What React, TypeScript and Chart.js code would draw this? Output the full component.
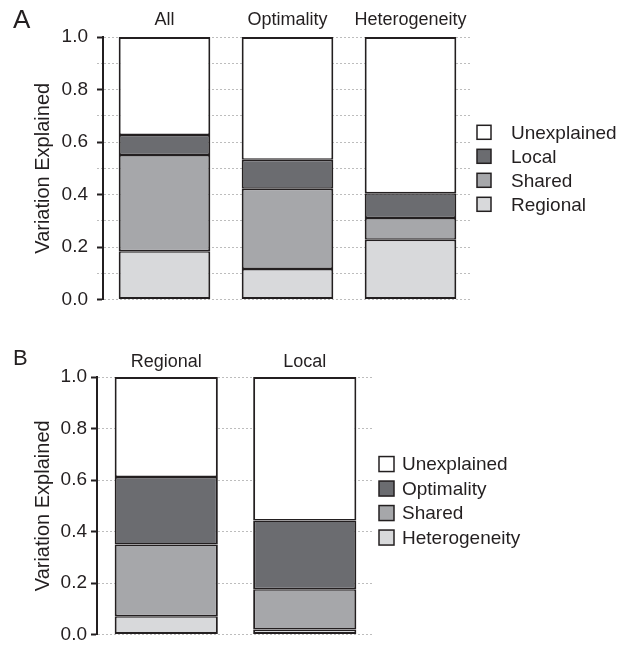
import React, { useEffect, useRef } from "react";
import { Chart, registerables } from "chart.js";

Chart.register(...registerables);

// ---------- data ----------
const panelACategories = ["All", "Optimality", "Heterogeneity"];
const panelASeriesNames = ["Regional", "Shared", "Local", "Unexplained"];
const panelARegional = [0.184, 0.117, 0.228];
const panelAShared = [0.367, 0.305, 0.083];
const panelALocal = [0.076, 0.111, 0.094];
const panelAUnexplained = [0.373, 0.467, 0.595];

const panelBCategories = ["Regional", "Local"];
const panelBSeriesNames = ["Heterogeneity", "Shared", "Optimality", "Unexplained"];
const panelBHeterogeneity = [0.071, 0.02];
const panelBShared = [0.279, 0.156];
const panelBOptimality = [0.262, 0.267];
const panelBUnexplained = [0.388, 0.557];

const yTickValues = [0, 0.2, 0.4, 0.6, 0.8, 1.0];

// ---------- style ----------
const INK = "#231f20";
const GRID = "#bdbdbd";
const FONT = '"Liberation Sans", Arial, Helvetica, sans-serif';
const FILLS = ["#d8d9db", "#a6a7aa", "#6b6c70", "#ffffff"]; // bottom -> top
const BORDERS = [
  { top: 1.5, bottom: 2, left: 2, right: 2 },
  { top: 1.5, bottom: 1.5, left: 2, right: 2 },
  { top: 1.5, bottom: 1.5, left: 2, right: 2 },
  { top: 2, bottom: 1.5, left: 2, right: 2 },
];

Chart.defaults.font.family = FONT;

type LegendCfg = { dx: number; box: number; gap: number; step: number; dy: number; size: number };
type PanelCfg = {
  height: number;
  top: number;
  bottom: number;
  left: number;
  right: number;
  tickPad: number;
  labelPad: number;
  tag: string;
  tagX: number;
  tagY: number;
  tagSize: number;
  legend: LegendCfg;
};

const isMajor = (v: number) => yTickValues.some((t) => Math.abs(t - v) < 1e-6);

function Panel({
  categories,
  names,
  series,
  cfg,
}: {
  categories: string[];
  names: string[];
  series: number[][];
  cfg: PanelCfg;
}) {
  const ref = useRef<HTMLCanvasElement | null>(null);

  useEffect(() => {
    if (!ref.current) return;
    const sidePlugin = {
      id: "sideLegend",
      afterDraw(chart: any) {
        const { ctx, chartArea } = chart;
        const L = cfg.legend;
        const ds = chart.data.datasets;
        const n = ds.length;
        const cy = (chartArea.top + chartArea.bottom) / 2 + L.dy;
        ctx.save();
        ctx.font = `${L.size}px ${FONT}`;
        ctx.textBaseline = "middle";
        ctx.textAlign = "left";
        for (let k = 0; k < n; k++) {
          const d = ds[n - 1 - k];
          const y = cy + (k - (n - 1) / 2) * L.step;
          const x = chartArea.right + L.dx;
          ctx.fillStyle = d.backgroundColor;
          ctx.fillRect(x, y - L.box / 2, L.box, L.box);
          ctx.strokeStyle = INK;
          ctx.lineWidth = 1.5;
          ctx.strokeRect(x, y - L.box / 2, L.box, L.box);
          ctx.fillStyle = INK;
          ctx.fillText(d.label, x + L.box + L.gap, y + 1);
        }
        // panel tag
        ctx.font = `${cfg.tagSize}px ${FONT}`;
        ctx.textBaseline = "alphabetic";
        ctx.fillStyle = INK;
        ctx.fillText(cfg.tag, cfg.tagX, cfg.tagY);
        ctx.restore();
      },
    };

    const chart = new Chart(ref.current, {
      type: "bar",
      data: {
        labels: categories,
        datasets: series.map((values, i) => ({
          label: names[i],
          data: values,
          backgroundColor: FILLS[i],
          borderColor: INK,
          borderWidth: BORDERS[i] as any,
          borderSkipped: false,
          barPercentage: 0.745,
          categoryPercentage: 1,
        })),
      },
      options: {
        animation: false,
        responsive: false,
        maintainAspectRatio: false,
        events: [],
        layout: {
          padding: { left: 0, top: 0, right: 630 - cfg.right, bottom: cfg.height - cfg.bottom },
        },
        plugins: {
          legend: { display: false },
          tooltip: { enabled: false },
        },
        scales: {
          x: {
            stacked: true,
            position: "top",
            grid: { display: false, drawTicks: false },
            border: { display: false },
            ticks: { padding: cfg.labelPad, color: INK, font: { size: 18 } },
            afterFit: (s: any) => {
              s.height = cfg.top;
            },
          },
          y: {
            stacked: true,
            min: 0,
            max: 1,
            ticks: {
              stepSize: 0.1,
              padding: cfg.tickPad,
              color: INK,
              font: { size: 19 },
              callback: (v: any) => (isMajor(Number(v)) ? Number(v).toFixed(1) : ""),
            },
            grid: {
              color: GRID,
              lineWidth: 1,
              tickLength: 6,
              tickColor: (c: any) => (c.tick && isMajor(c.tick.value) ? INK : GRID),
              tickWidth: (c: any) => (c.tick && isMajor(c.tick.value) ? 2 : 1),
              tickBorderDash: (c: any) => (c.tick && isMajor(c.tick.value) ? [] : [2, 2]),
            },
            border: { display: true, color: INK, width: 2, dash: [2, 2] },
            title: {
              display: true,
              text: "Variation Explained",
              color: INK,
              font: { size: 20 },
              padding: { top: 31, bottom: 0 },
            },
            afterFit: (s: any) => {
              s.width = cfg.left;
            },
          },
        },
      },
      plugins: [sidePlugin],
    });
    return () => chart.destroy();
  }, []);

  return (
    <canvas
      ref={ref}
      width={630}
      height={cfg.height}
      style={{ display: "block", width: 630, height: cfg.height }}
    />
  );
}

const cfgA: PanelCfg = {
  height: 320,
  top: 37,
  bottom: 300,
  left: 103,
  right: 472,
  tickPad: 9,
  labelPad: 6,
  tag: "A",
  tagX: 13,
  tagY: 28,
  tagSize: 26,
  legend: { dx: 5, box: 14, gap: 20, step: 24, dy: 0, size: 19 },
};

const cfgB: PanelCfg = {
  height: 330,
  top: 57,
  bottom: 319,
  left: 97,
  right: 374,
  tickPad: 4,
  labelPad: 4,
  tag: "B",
  tagX: 13,
  tagY: 45,
  tagSize: 22,
  legend: { dx: 5, box: 15, gap: 8, step: 24.5, dy: -5, size: 19 },
};

export default function App() {
  return (
    <div style={{ position: "absolute", left: 0, top: 0, width: 630, height: 650, background: "#fff" }}>
      <Panel
        categories={panelACategories}
        names={panelASeriesNames}
        series={[panelARegional, panelAShared, panelALocal, panelAUnexplained]}
        cfg={cfgA}
      />
      <Panel
        categories={panelBCategories}
        names={panelBSeriesNames}
        series={[panelBHeterogeneity, panelBShared, panelBOptimality, panelBUnexplained]}
        cfg={cfgB}
      />
    </div>
  );
}
